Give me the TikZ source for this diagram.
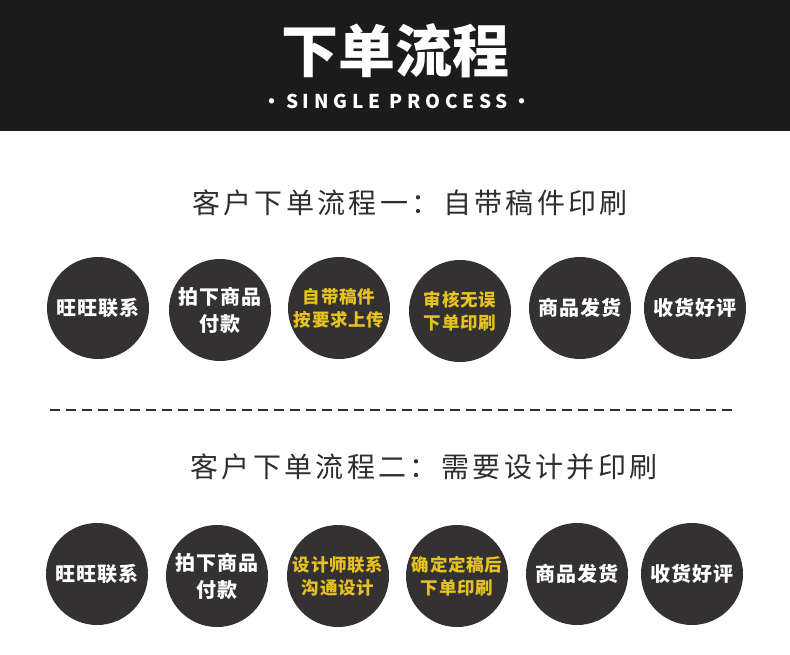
\documentclass[tikz,border=0pt]{standalone}
\usepackage{fontspec}
\newfontfamily\cjk{Noto Sans CJK SC}
\newfontfamily\cjkw{Noto Sans CJK SC}[LetterSpace=4]
\newfontfamily\cjkls{Noto Sans CJK SC}[LetterSpace=12]
\newfontfamily\engls{Noto Sans CJK SC}[LetterSpace=25]
\definecolor{band}{HTML}{1B1B1B}
\definecolor{disc}{HTML}{333132}
\definecolor{gold}{HTML}{E6C21E}
\definecolor{ink}{HTML}{2E2E2E}
\tikzset{
  stepdisc/.style={circle,fill=disc,minimum size=102pt,inner sep=0pt,align=center},
  wtext/.style={text=white,font=\cjkw\bfseries\fontsize{20}{27}\selectfont},
  ytext/.style={text=gold,font=\cjkw\bfseries\fontsize{17.5}{23}\selectfont},
  sectitle/.style={text=ink,font=\cjkls\fontsize{28}{32}\selectfont},
}
\begin{document}
\begin{tikzpicture}[x=1pt,y=-1pt]
\useasboundingbox (0,0) rectangle (790,655);
\fill[white] (0,0) rectangle (790,655);
\fill[band] (0,0) rectangle (790,131);
\node[text=white,font=\cjk\bfseries\fontsize{57}{62}\selectfont] (title) at (395,51) {下单流程};
\node[text=white,font=\engls\bfseries\fontsize{19}{22}\selectfont] (sub) at (397,101) {·SINGLE PROCESS·};
\node[sectitle] (t1) at (410,203) {客户下单流程一：自带稿件印刷};
\node[sectitle] (t2) at (424,467) {客户下单流程二：需要设计并印刷};
\coordinate (dl) at (50,410);
\coordinate (dr) at (734,410);
\draw[ink,line width=1.2pt,dash pattern=on 10pt off 6pt] (dl) -- (dr);
% row 1
\node[stepdisc,wtext] (a1) at (98,308) {旺旺联系};
\node[stepdisc,wtext] (a2) at (220,310) {拍下商品\\付款};
\node[stepdisc,ytext] (a3) at (339,308) {自带稿件\\按要求上传};
\node[stepdisc,ytext] (a4) at (460,311) {审核无误\\下单印刷};
\node[stepdisc,wtext] (a5) at (580,308) {商品发货};
\node[stepdisc,wtext] (a6) at (695,308) {收货好评};
% row 2
\node[stepdisc,wtext] (b1) at (97,574) {旺旺联系};
\node[stepdisc,wtext] (b2) at (217,576) {拍下商品\\付款};
\node[stepdisc,ytext] (b3) at (338,576) {设计师联系\\沟通设计};
\node[stepdisc,ytext] (b4) at (457,576) {确定定稿后\\下单印刷};
\node[stepdisc,wtext] (b5) at (577,574) {商品发货};
\node[stepdisc,wtext] (b6) at (692,574) {收货好评};
\end{tikzpicture}
\end{document}
